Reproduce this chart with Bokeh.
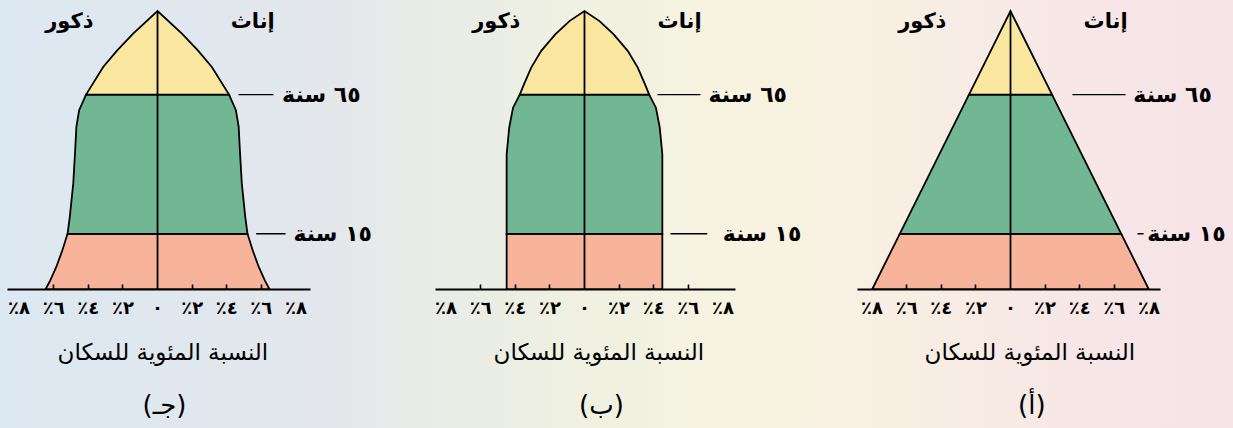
from bokeh.plotting import figure
from bokeh.layouts import row
from bokeh.models import FixedTicker, Title, Label
from bokeh.embed import file_html
from bokeh.resources import INLINE

# ---------------- data ----------------
tick_values = [-8, -6, -4, -2, 0, 2, 4, 6, 8]
tick_labels = ["٪٨", "٪٦", "٪٤", "٪٢", "٠", "٪٢", "٪٤", "٪٦", "٪٨"]
minor_tick_values = [-6, -4, -2, 2, 4, 6]

band_colors = ["#f8b39b", "#71b793", "#f9e7a0"]   # 0-15, 15-65, 65+
boundary_heights = [20, 70]                       # schematic heights of the 15 / 65 year lines
boundary_labels = ["١٥ سنة", "٦٥ سنة"]
apex_height = 100

male_label = "ذكور"
female_label = "إناث"
x_title = "النسبة المئوية للسكان"
panel_titles = ["(جـ)", "(ب)", "(أ)"]

# (جـ) : half-width (%) of each sex at given schematic heights
c_young_h = [0, 3.3, 8.1, 14.1, 20]
c_young_w = [6.48, 6.2, 5.85, 5.5, 5.2]
c_adult_h = [20, 26.1, 38.1, 50, 58.4, 64.4, 70]
c_adult_w = [5.2, 5.07, 4.87, 4.76, 4.69, 4.53, 4.13]
c_old_h = [70, 79.9, 85.9, 91.9, 100]
c_old_w = [4.13, 3.14, 2.33, 1.41, 0]

# (ب)
b_young_h = [0, 20]
b_young_w = [4.5, 4.5]
b_adult_h = [20, 48.6, 58.2, 65.3, 70]
b_adult_w = [4.5, 4.5, 4.35, 4.13, 3.74]
b_old_h = [70, 73.7, 79.7, 85.7, 91.6, 96.4, 100]
b_old_w = [3.74, 3.5, 3.08, 2.5, 1.69, 0.87, 0]

# (أ)
a_young_h = [0, 20]
a_young_w = [8.0, 6.4]
a_adult_h = [20, 70]
a_adult_w = [6.4, 2.4]
a_old_h = [70, 100]
a_old_w = [2.4, 0]

FONT = "DejaVu Sans"
H = 428


def make_panel(title, bands, width, x_range, axis_bounds, lines, text_x,
               title_offset, letter_offset):
    p = figure(width=width, height=H, x_range=x_range, y_range=(0, 103.8),
               output_backend="svg", toolbar_location=None, y_axis_location=None,
               min_border_left=0, min_border_right=0, min_border_top=0,
               min_border_bottom=139, background_fill_color=None,
               border_fill_color=None, outline_line_color=None)
    p.grid.visible = False

    # bands
    for (hs, ws), color in zip(bands, band_colors):
        xs = [-w for w in ws] + [w for w in ws[::-1]]
        ys = list(hs) + list(hs[::-1])
        p.patch(xs, ys, fill_color=color, line_color="black", line_width=1.8,
                line_join="miter")
    # centre line
    p.segment(x0=[0], y0=[0], x1=[0], y1=[apex_height], line_color="black", line_width=1.8)

    # boundary labels
    for i, (h, lab) in enumerate(zip(boundary_heights, boundary_labels)):
        w_at = bands[i][1][-1]
        x0, x1 = w_at + lines[i][0], lines[i][1]
        p.segment(x0=[x0], y0=[h], x1=[x1], y1=[h], line_color="black", line_width=1.4)
        p.add_layout(Label(x=text_x[i], y=h, text=lab, text_align="left",
                           text_baseline="middle", text_font=FONT,
                           text_font_size="22px", text_font_style="bold",
                           text_color="black"))

    # sex headers
    p.add_layout(Label(x=-5.1, y=96.5, text=male_label, text_align="center",
                       text_baseline="middle", text_font=FONT, text_font_size="21px",
                       text_font_style="bold", text_color="black"))
    p.add_layout(Label(x=5.5, y=96.5, text=female_label, text_align="center",
                       text_baseline="middle", text_font=FONT, text_font_size="21px",
                       text_font_style="bold", text_color="black"))

    ax = p.xaxis[0]
    ax.ticker = FixedTicker(ticks=tick_values, minor_ticks=minor_tick_values)
    ax.major_label_overrides = {v: l for v, l in zip(tick_values, tick_labels)}
    ax.bounds = axis_bounds
    ax.axis_line_color = "black"
    ax.axis_line_width = 2
    ax.major_tick_in = 0
    ax.major_tick_out = 0
    ax.minor_tick_in = 5
    ax.minor_tick_out = 0
    ax.minor_tick_line_color = "black"
    ax.minor_tick_line_width = 1.6
    ax.major_label_standoff = 7
    ax.major_label_text_font = FONT
    ax.major_label_text_font_size = "18px"
    ax.major_label_text_font_style = "bold"
    ax.major_label_text_color = "black"

    p.add_layout(Title(text=x_title, align="left", offset=title_offset, text_font=FONT,
                       text_font_size="23px", text_font_style="normal",
                       text_color="black", standoff=32), "below")
    p.add_layout(Title(text=title, align="left", offset=letter_offset, text_font=FONT,
                       text_font_size="26px", text_font_style="normal",
                       text_color="black", standoff=14), "below")
    return p


pc = make_panel(panel_titles[0],
                [(c_young_h, c_young_w), (c_adult_h, c_adult_w), (c_old_h, c_old_w)],
                410, (-9.075, 14.62), (-8.67, 8.84),
                [(0.5, 7.4), (0.55, 6.7)], [7.86, 7.2], 57, 142)
pb = make_panel(panel_titles[1],
                [(b_young_h, b_young_w), (b_adult_h, b_adult_w), (b_old_h, b_old_w)],
                430, (-10.058, 14.80), (-8.6, 8.75),
                [(0.47, 7.1), (0.48, 6.7)], [8.0, 7.17], 83, 168.5)
pa = make_panel(panel_titles[2],
                [(a_young_h, a_young_w), (a_adult_h, a_adult_w), (a_old_h, a_old_w)],
                393, (-9.827, 12.89), (-8.84, 8.67),
                [(0.94, 7.69), (1.18, 6.65)], [7.9, 7.1], 84, 177.5)

layout = row(pc, pb, pa, styles={
    "background": "linear-gradient(90deg, #dce8f2 0%, #e3e7ec 25%, #eef0e2 45%, "
                  "#f7f3e0 60%, #f8efe2 72%, #f7e8e6 85%, #f6e3e8 100%)"})

open("out.html", "w").write(file_html(layout, INLINE))
